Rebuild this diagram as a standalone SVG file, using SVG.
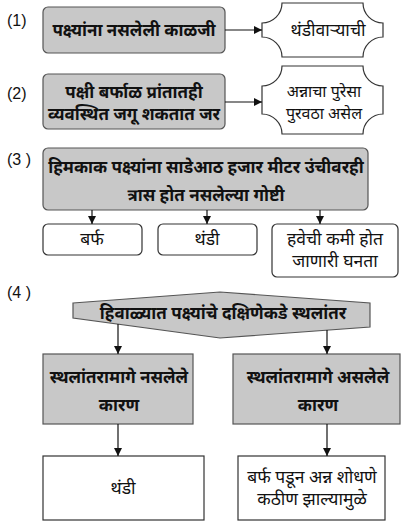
<svg xmlns="http://www.w3.org/2000/svg" width="409" height="526" viewBox="0 0 409 526">
<defs>
<marker id="ah" markerWidth="8" markerHeight="8" refX="8" refY="4" orient="auto" markerUnits="userSpaceOnUse">
<path d="M0,0 L8,4 L0,8 Z" fill="#111"/>
</marker>
<style>
.g{fill:#c8c8c8;stroke:#555;stroke-width:1.2}
.w{fill:#fff;stroke:#333;stroke-width:1.2}
.tb{font-family:"Noto Sans Devanagari","Lohit Devanagari","Noto Sans",sans-serif;font-weight:bold;font-size:17px;fill:#111;text-anchor:middle}
.tr{font-family:"Noto Sans Devanagari","Lohit Devanagari","Noto Sans",sans-serif;font-size:17.5px;fill:#111;text-anchor:middle}
.ts{font-size:16px}
.lb{font-family:"Liberation Sans",Arial,sans-serif;font-size:16px;fill:#111}
.c{stroke:#111;stroke-width:1.2;fill:none;marker-end:url(#ah)}
</style>
</defs>
<rect width="409" height="526" fill="#fff"/>

<g id="labels">
<text class="lb" x="7" y="26">(1)</text>
<text class="lb" x="7" y="99">(2)</text>
<text class="lb" x="7" y="165">(3 )</text>
<text class="lb" x="7" y="298">(4 )</text>
</g>

<g id="n1">
<rect class="g" x="43" y="7" width="182" height="46" rx="5"/>
<text class="tb" x="134" y="36">पक्ष्यांना नसलेली काळजी</text>
</g>
<g id="n1r">
<path class="w" d="M282,3 H363 A20 20 0 0 0 383,23 V37 A20 20 0 0 0 363,57 H282 A20 20 0 0 0 262,37 V23 A20 20 0 0 0 282,3 Z"/>
<text class="tr" x="328" y="36">थंडीवाऱ्याची</text>
</g>

<g id="n2">
<rect class="g" x="43" y="74" width="182" height="55" rx="5"/>
<text class="tb" x="134" y="98">पक्षी बर्फाळ प्रांतातही</text>
<text class="tb" x="134" y="120">व्यवस्थित जगू शकतात जर</text>
</g>
<g id="n2r">
<path class="w" d="M282,66 H363 A20 20 0 0 0 383,86 V114 A20 20 0 0 0 363,134 H282 A20 20 0 0 0 262,114 V86 A20 20 0 0 0 282,66 Z"/>
<text class="tr ts" x="324" y="97">अन्नाचा पुरेसा</text>
<text class="tr ts" x="324" y="119">पुरवठा असेल</text>
</g>

<g id="n3">
<rect class="g" x="43" y="148" width="325" height="62" rx="5"/>
<text class="tb" x="206" y="173">हिमकाक पक्ष्यांना साडेआठ हजार मीटर उंचीवरही</text>
<text class="tb" x="206" y="201">त्रास होत नसलेल्या गोष्टी</text>
</g>
<g id="n3a">
<rect class="w" x="43" y="224" width="99" height="31" rx="5"/>
<text class="tr" x="92" y="245">बर्फ</text>
</g>
<g id="n3b">
<rect class="w" x="158" y="224" width="99" height="31" rx="5"/>
<text class="tr" x="207" y="245">थंडी</text>
</g>
<g id="n3c">
<rect class="w" x="272" y="224" width="126" height="53" rx="5"/>
<text class="tr" x="335" y="245">हवेची कमी होत</text>
<text class="tr" x="335" y="267">जाणारी घनता</text>
</g>

<g id="n4">
<polygon class="g" points="73,303 220,292 370,303 370,327 220,338 73,318"/>
<text class="tb" x="223" y="319">हिवाळ्यात पक्ष्यांचे दक्षिणेकडे स्थलांतर</text>
</g>
<g id="n4a">
<rect class="g" x="43" y="354" width="150" height="70"/>
<text class="tb" x="119" y="383">स्थलांतरामागे नसलेले</text>
<text class="tb" x="119" y="411">कारण</text>
</g>
<g id="n4b">
<rect class="g" x="233" y="354" width="167" height="70"/>
<text class="tb" x="318" y="383">स्थलांतरामागे असलेले</text>
<text class="tb" x="318" y="411">कारण</text>
</g>
<g id="n4c">
<rect class="w" x="43" y="456" width="161" height="64"/>
<text class="tr" x="123" y="494">थंडी</text>
</g>
<g id="n4d">
<rect class="w" x="238" y="456" width="147" height="64"/>
<text class="tr" x="312" y="483">बर्फ पडून अन्न शोधणे</text>
<text class="tr" x="312" y="505">कठीण झाल्यामुळे</text>
</g>

<g id="connectors">
<line class="c" x1="225" y1="30" x2="262" y2="30"/>
<line class="c" x1="225" y1="102" x2="262" y2="102"/>
<line class="c" x1="92" y1="210" x2="92" y2="224"/>
<line class="c" x1="207" y1="210" x2="207" y2="224"/>
<line class="c" x1="320" y1="210" x2="320" y2="224"/>
<line class="c" x1="118" y1="324" x2="118" y2="354"/>
<line class="c" x1="327" y1="330" x2="327" y2="354"/>
<line class="c" x1="118" y1="424" x2="118" y2="456"/>
<line class="c" x1="327" y1="424" x2="327" y2="456"/>
</g>
</svg>
